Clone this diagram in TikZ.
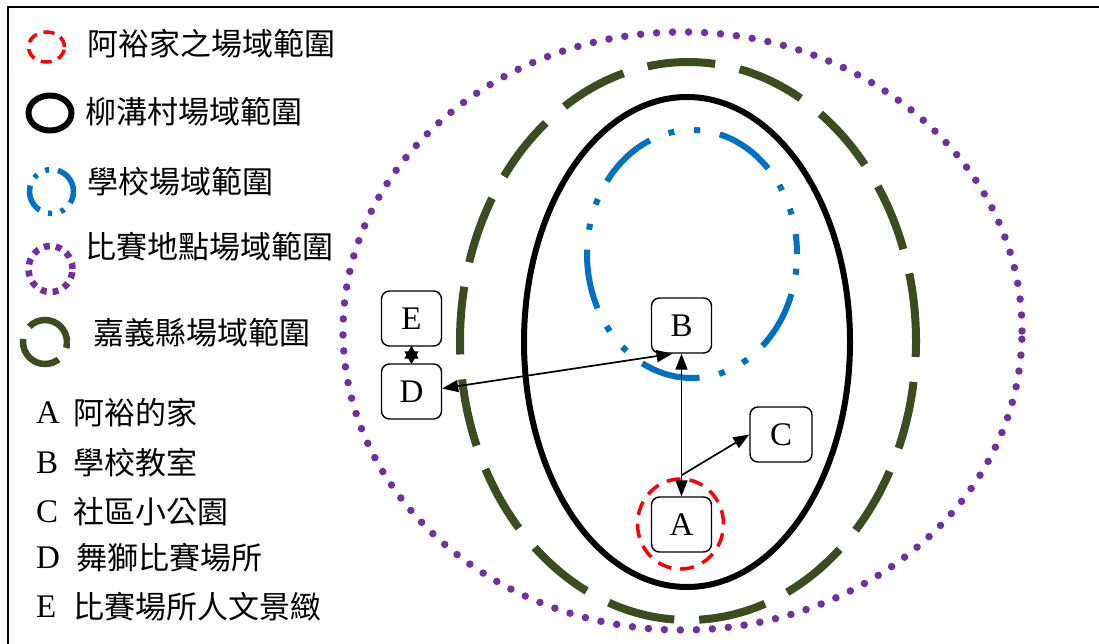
\documentclass[tikz,border=0pt]{standalone}
\usepackage{fontspec}
\setmainfont{Liberation Serif}
\newfontfamily\cjk{Noto Sans CJK TC}
\usetikzlibrary{arrows.meta}
\definecolor{violetc}{RGB}{112,48,160}
\definecolor{greenc}{RGB}{60,76,32}
\definecolor{bluec}{RGB}{0,112,192}
\definecolor{redc}{RGB}{255,0,0}
\begin{document}
\begin{tikzpicture}[x=1pt,y=-1pt,
  box/.style={draw, line width=1.4pt, rounded corners=8pt, minimum width=60pt, minimum height=55pt, inner sep=0pt, font=\fontsize{33}{38}\selectfont, fill=white},
  legtext/.style={anchor=west, inner sep=0pt, font=\fontsize{31}{36}\selectfont\cjk},
  leglet/.style={anchor=west, inner sep=0pt, font=\fontsize{33}{38}\selectfont},
  conn/.style={line width=1.7pt, {Triangle[length=16pt,width=12pt]}-{Triangle[length=16pt,width=12pt]}},
  conn1/.style={line width=1.7pt, -{Triangle[length=16pt,width=12pt]}},
  connsmall/.style={line width=1.7pt, shorten <=-1pt, shorten >=-1pt, {Triangle[length=13pt,width=14pt]}-{Triangle[length=13pt,width=14pt]}},
  purplez/.style={draw=violetc, line width=7.5pt, line cap=round, dash pattern=on 0pt off 16pt},
  greenz/.style={draw=greenc, line width=8pt, dash pattern=on 68pt off 25pt},
  bluez/.style={draw=bluec, line width=6pt, dash pattern=on 60pt off 20pt on 6pt off 20pt on 6pt off 20pt},
  redz/.style={draw=redc, line width=3.5pt, dash pattern=on 14pt off 9pt},
  blackz/.style={draw=black, line width=6pt},
  frame/.style={draw=black, line width=2pt}
]
\useasboundingbox (0,0) rectangle (1099,644);
% frame
\draw[frame] (8,700) -- (8,7) -- (1150,7);

% large ranges
\draw[purplez] (682.5,331) ellipse [x radius=339.5pt, y radius=299pt];
\draw[greenz] (688,341) ellipse [x radius=228pt, y radius=279pt];
\draw[blackz] (687,342) ellipse [x radius=163pt, y radius=245pt];
\draw[bluez, dash phase=40pt] (692,254) ellipse [x radius=105pt, y radius=124pt];

% legend icons
\draw[redz, line width=3.5pt, dash pattern=on 11pt off 7pt] (46.5,47) ellipse [x radius=18pt, y radius=15pt];
\draw[blackz] (50,113) ellipse [x radius=21.5pt, y radius=17.5pt];
\draw[bluez, line width=5.5pt, dash pattern=on 28pt off 9pt on 4pt off 9pt on 4pt off 9pt] (51.5,191.5) ellipse [x radius=22pt, y radius=22pt];
\draw[purplez, line width=6.5pt, line cap=butt, dash pattern=on 6pt off 6pt] (50.5,269) ellipse [x radius=22pt, y radius=23pt];
\draw[greenz, line width=6.5pt, dash pattern=on 52pt off 14pt] (45,342) ellipse [x radius=22pt, y radius=22pt];

% legend texts
\node[legtext] (l1) at (87,44) {阿裕家之場域範圍};
\node[legtext] (l2) at (85,112) {柳溝村場域範圍};
\node[legtext] (l3) at (87,182) {學校場域範圍};
\node[legtext] (l4) at (85,247) {比賽地點場域範圍};
\node[legtext] (l5) at (93,333) {嘉義縣場域範圍};

\node[leglet] (kA) at (36,413) {A};
\node[legtext] (tA) at (73,413) {阿裕的家};
\node[leglet] (kB) at (36,463) {B};
\node[legtext] (tB) at (73,463) {學校教室};
\node[leglet] (kC) at (36,512) {C};
\node[legtext] (tC) at (73,512) {社區小公園};
\node[leglet] (kD) at (36,558) {D};
\node[legtext] (tD) at (76,558) {舞獅比賽場所};
\node[leglet] (kE) at (36,607) {E};
\node[legtext] (tE) at (73,607) {比賽場所人文景緻};

% red circle around A
\draw[redz] (680.5,524) ellipse [x radius=43pt, y radius=45pt];

% nodes
\node[box] (B) at (681.5,325.5) {B};
\node[box] (A) at (681.5,524.5) {A};
\node[box, minimum width=62pt] (C) at (781,434.5) {C};
\node[box] (E) at (411.5,318.5) {E};
\node[box] (D) at (411.5,391.5) {D};

% connectors
\coordinate (AC) at ([yshift=21pt]A.north);
\draw[conn] (B.south) -- (A.north);
\draw[conn] ([xshift=-9pt]B.south) -- ([yshift=3pt]D.east);
\draw[conn1] (AC) -- (C.west);
\draw[connsmall] (E.south) -- (D.north);
\end{tikzpicture}
\end{document}
